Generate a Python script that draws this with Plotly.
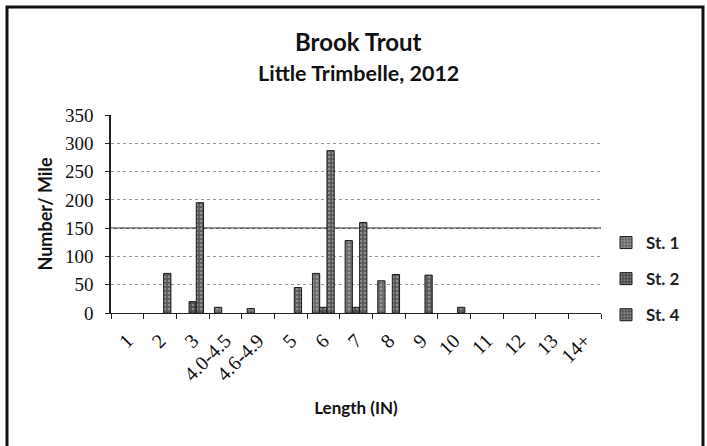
import plotly.graph_objects as go

categories = ["1", "2", "3", "4.0-4.5", "4.6-4.9", "5", "6", "7", "8", "9", "10", "11", "12", "13", "14+"]
st1 = [0, 0, 0, 10, 8, 0, 70, 128, 57, 0, 0, 0, 0, 0, 0]
st2 = [0, 0, 20, 0, 0, 0, 10, 10, 0, 0, 0, 0, 0, 0, 0]
st4 = [0, 70, 195, 0, 0, 45, 287, 160, 68, 67, 10, 0, 0, 0, 0]
series_names = ["St. 1", "St. 2", "St. 4"]
y_ticks = [0, 50, 100, 150, 200, 250, 300, 350]

colors = ["#6c6c6c", "#4c4c4c", "#5a5a5a"]

fig = go.Figure()
for i, (name, vals) in enumerate(zip(series_names, [st1, st2, st4])):
    fig.add_trace(go.Bar(
        x=categories, y=[v if v else None for v in vals], name=name, legendgroup=name,
        marker=dict(color=colors[i], line=dict(color="#1a1a1a", width=1),
                    pattern=dict(shape=".", fgcolor="#c8c8c8", size=4, solidity=0.3)),
    ))

L, R, T, B = 111, 601, 115, 313
W, H = 707, 446
pw, ph = R - L, B - T

def px(x):
    return (x - L) / pw

def py(y):
    return (B - y) / ph

fig.update_layout(
    width=W, height=H,
    margin=dict(l=L, r=W - R, t=T, b=H - B, autoexpand=False),
    paper_bgcolor="white", plot_bgcolor="white",
    barmode="group", bargap=0.333, bargroupgap=0,
    showlegend=True,
    legend=dict(x=px(606), y=py(225), xanchor="left", yanchor="top",
                font=dict(family="Lato", size=17, color="#222", weight="bold"),
                tracegroupgap=11, itemwidth=30, bgcolor="rgba(0,0,0,0)"),
    font=dict(family="Lato", color="#111"),
)

fig.update_xaxes(
    type="category", showline=True, linecolor="#222", linewidth=1, automargin=False,
    ticks="outside", tickson="boundaries", ticklen=5, tickcolor="#222",
    tickangle=-45, tickfont=dict(family="Liberation Serif", size=20, color="#111"),
    ticklabelstandoff=7,
    title=dict(text="<b>Length (IN)</b>", font=dict(family="Lato", size=17, color="#111"), standoff=18),
    showgrid=False,
)
fig.update_yaxes(
    range=[0, 350], tickvals=y_ticks, showline=True, linecolor="#222", linewidth=1.5, automargin=False,
    ticks="outside", ticklen=4, tickcolor="#222",
    tickfont=dict(family="Liberation Serif", size=19, color="#111"),
    ticklabelstandoff=8,
    showgrid=True, gridcolor="#9a9a9a", griddash="dot", gridwidth=1,
    zeroline=False,
    title=dict(text="<b>Number/ Mile</b>", font=dict(family="Lato", size=18, color="#111"), standoff=8),
)

# solid reference line at 150
fig.add_shape(type="line", xref="paper", yref="y", x0=0, x1=1, y0=150, y1=150,
              line=dict(color="#222", width=1.2), layer="below")

# chart border
fig.add_shape(type="rect", xref="paper", yref="paper",
              x0=px(7), x1=px(703), y0=py(460), y1=py(7),
              line=dict(color="#111", width=3), fillcolor="rgba(0,0,0,0)")

fig.add_annotation(text="<b>Brook Trout</b>", xref="paper", yref="paper",
                   x=px(358), y=py(41), xanchor="center", yanchor="middle", showarrow=False,
                   font=dict(family="Lato", size=24, color="#111"))
fig.add_annotation(text="<b>Little Trimbelle, 2012</b>", xref="paper", yref="paper",
                   x=px(358), y=py(73), xanchor="center", yanchor="middle", showarrow=False,
                   font=dict(family="Lato", size=21.5, color="#111"))

fig.write_html("out.html", config={"displayModeBar": False},
               post_script="document.body.style.margin='0';document.body.style.overflow='hidden';")
